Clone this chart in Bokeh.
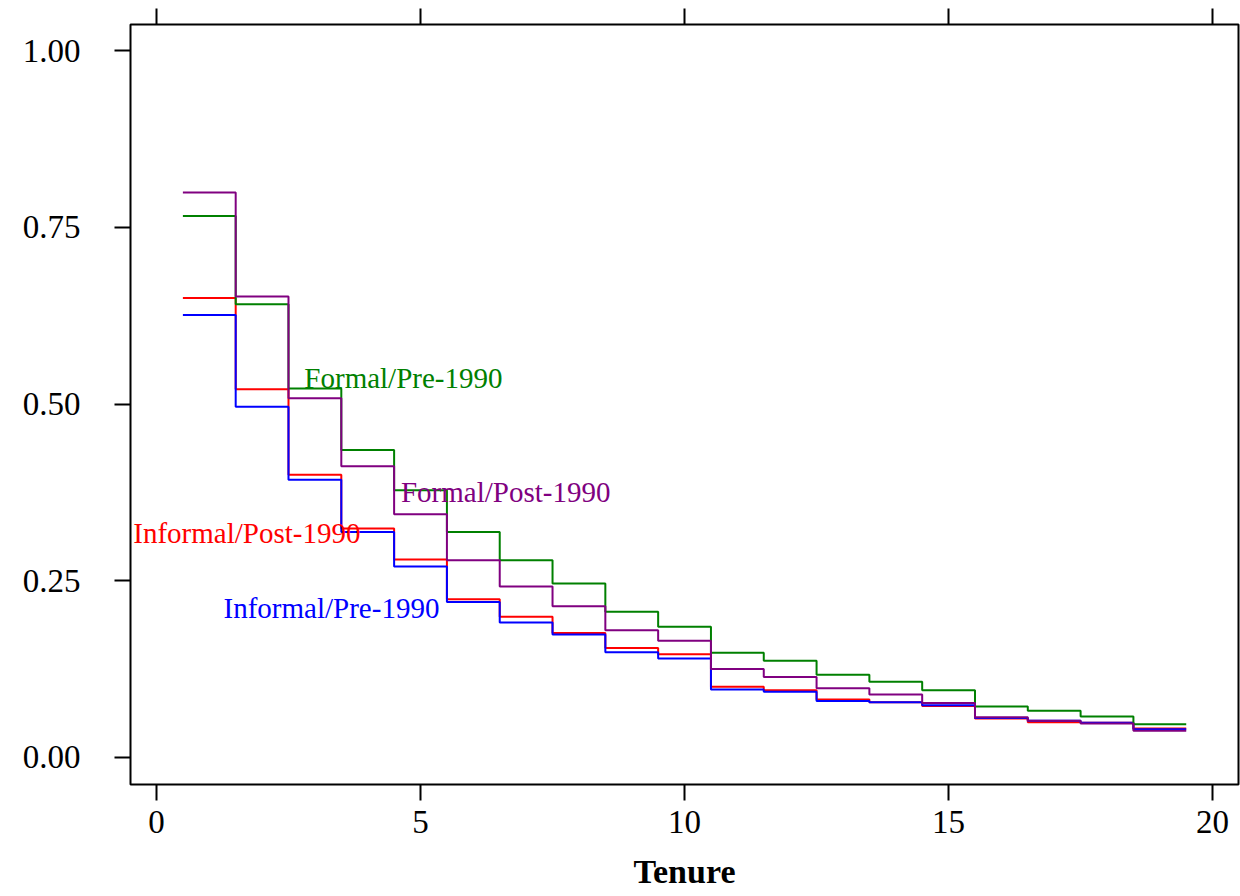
from bokeh.plotting import figure
from bokeh.models import (ColumnDataSource, Range1d, FixedTicker, LinearAxis,
                          PrintfTickFormatter, CustomJSTickFormatter)
from bokeh.core.properties import value
from bokeh.embed import file_html
from bokeh.resources import INLINE

# ---- data ----
tenure = list(range(1, 20))

formal_pre = [0.766, 0.641, 0.522, 0.435, 0.378, 0.319, 0.279, 0.246, 0.206, 0.185,
              0.148, 0.137, 0.117, 0.107, 0.095, 0.072, 0.066, 0.058, 0.047]
formal_post = [0.799, 0.652, 0.508, 0.412, 0.344, 0.279, 0.242, 0.214, 0.180, 0.165,
               0.125, 0.114, 0.098, 0.089, 0.077, 0.057, 0.052, 0.048, 0.038]
informal_post = [0.650, 0.521, 0.400, 0.324, 0.280, 0.224, 0.199, 0.176, 0.155, 0.146,
                 0.100, 0.095, 0.082, 0.078, 0.073, 0.055, 0.050, 0.049, 0.041]
informal_pre = [0.626, 0.496, 0.393, 0.319, 0.270, 0.220, 0.191, 0.174, 0.149, 0.140,
                0.096, 0.093, 0.080, 0.078, 0.074, 0.056, 0.052, 0.049, 0.040]

series_names = ["Informal/Post-1990", "Informal/Pre-1990", "Formal/Pre-1990", "Formal/Post-1990"]
series_values = [informal_post, informal_pre, formal_pre, formal_post]
series_colors = ["#FF0000", "#0000FF", "#008000", "#800080"]

# label anchor positions (data coords, left/baseline)
label_x = [-0.44, 1.27, 2.80, 4.63]
label_y = [0.318, 0.212, 0.537, 0.375]

x_ticks = [0, 5, 10, 15, 20]
y_ticks = [0.0, 0.25, 0.5, 0.75, 1.0]

SERIF = "Liberation Serif"

p = figure(width=1240, height=896, output_backend="svg", toolbar_location=None,
           x_range=Range1d(-0.492, 20.49), y_range=Range1d(-0.0382, 1.0368),
           min_border_left=130, min_border_right=2, min_border_top=24,
           min_border_bottom=112)
p.xgrid.visible = False
p.ygrid.visible = False
p.outline_line_color = "black"
p.outline_line_width = 2
p.background_fill_color = "white"
p.border_fill_color = "white"


def step_xy(vals):
    xs, ys = [], []
    for t, v in zip(tenure, vals):
        xs += [t - 0.5, t + 0.5]
        ys += [v, v]
    return xs, ys


for name, vals, col in zip(series_names, series_values, series_colors):
    xs, ys = step_xy(vals)
    p.line(x=xs, y=ys, line_color=col, line_width=2)

lab_src = ColumnDataSource(dict(x=label_x, y=label_y, text=series_names, color=series_colors))
p.text(x="x", y="y", text="text", text_color="color", source=lab_src,
       text_font=value(SERIF), text_font_size="29px",
       text_align="left", text_baseline="alphabetic")


def style_axis(ax):
    ax.axis_line_color = None
    ax.major_tick_out = 16
    ax.major_tick_in = 0
    ax.major_tick_line_width = 2
    ax.major_tick_line_color = "black"
    ax.minor_tick_line_color = None
    ax.major_label_text_font = SERIF
    ax.major_label_text_font_size = "33px"
    ax.major_label_text_color = "black"


xa = p.xaxis[0]
style_axis(xa)
xa.ticker = FixedTicker(ticks=x_ticks)
xa.major_label_standoff = 10
xa.axis_label = "Tenure"
xa.axis_label_text_font = SERIF
xa.axis_label_text_font_size = "34px"
xa.axis_label_text_font_style = "bold"
xa.axis_label_text_color = "black"
xa.axis_label_standoff = 17

ya = p.yaxis[0]
style_axis(ya)
ya.ticker = FixedTicker(ticks=y_ticks)
ya.formatter = PrintfTickFormatter(format="%.2f")
ya.major_label_standoff = 34
ya.major_label_orientation = "horizontal"

top = LinearAxis(ticker=FixedTicker(ticks=x_ticks),
                 formatter=CustomJSTickFormatter(code="return '';"))
style_axis(top)
top.major_label_standoff = 0
p.add_layout(top, "above")

open("out.html", "w").write(file_html(p, INLINE))
